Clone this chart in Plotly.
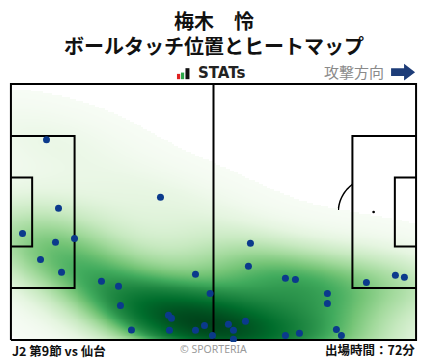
import numpy as np
import plotly.graph_objects as go

# ---------------- data (pitch metres, x: own goal -> attack, y: from bottom touchline)
PITCH_LEN = 105.0
PITCH_WID = 68.0
touch_x = [9.22, 38.76, 12.33, 3.00, 11.55, 16.48, 7.67, 13.11, 23.47, 27.88,
           28.39, 31.24, 40.83, 41.61, 41.09, 47.83, 47.83, 50.16, 51.63, 52.23,
           56.37, 57.67, 57.67, 60.78, 62.07, 61.55, 71.14, 73.73, 71.14, 74.77,
           82.02, 82.02, 84.35, 85.65, 92.13, 99.64, 101.97]
touch_y = [53.2, 37.9, 35.0, 28.3, 25.95, 27.0, 21.4, 18.0, 15.6, 14.3,
           9.2, 2.7, 6.6, 5.8, 2.6, 17.5, 2.6, 3.9, 12.4, 1.2,
           4.2, 2.6, 0.2, 5.0, 25.7, 19.6, 16.4, 16.1, 1.2, 1.8,
           12.4, 9.7, 2.8, 1.2, 15.3, 17.2, 16.7]
# outer edge of the shaded heat area (metres)
edge_x = [0.0, 25.7, 38.7, 51.6, 69.0, 85.3, 105.0]
edge_y = [67.2, 61.9, 53.9, 47.3, 39.6, 34.8, 30.8]

title_name = "梅木　怜"
title_sub = "ボールタッチ位置とヒートマップ"
match_label = "J2 第9節 vs 仙台"
minutes_label = "出場時間：72分"
direction_label = "攻撃方向"
brand_label = "STATs"
credit_label = "© SPORTERIA"

# ---------------- layout geometry (pixels)
W, H = 428, 359
PAD = 0.5
PX_X = 405.3 / PITCH_LEN
PX_Y = 256.0 / PITCH_WID
ML = 10.7 - PAD * PX_X
MR = W - (416.0 + PAD * PX_X)
MT = 84.0 - PAD * PX_Y
MB = H - (340.0 + PAD * PX_Y)
PW = W - ML - MR
PH = H - MT - MB


def px(xp):
    return (xp - ML) / PW


def py(yp):
    return 1 - (yp - MT) / PH


# ---------------- gaussian KDE of touches; kernel chosen so that the shaded edge matches
pts = np.vstack([touch_x, touch_y])
edge = np.vstack([edge_x, edge_y])


def kde_at(P, K):
    inv = np.linalg.inv(K)
    diff = P[:, :, None] - pts[:, None, :]
    q = np.einsum('imn,ij,jmn->mn', diff, inv, diff)
    return np.exp(-0.5 * q).sum(1)


cgx, cgy = np.meshgrid(np.linspace(0, PITCH_LEN, 36), np.linspace(0, PITCH_WID, 24))
coarse = np.stack([cgx.ravel(), cgy.ravel()])
best = None
for sx in np.linspace(8, 26, 13):
    for sy in np.linspace(4, 14, 11):
        for rho in np.linspace(-0.85, 0.1, 12):
            K = np.array([[sx * sx, rho * sx * sy], [rho * sx * sy, sy * sy]])
            le = np.log(kde_at(edge, K))
            lg = np.log(kde_at(coarse, K).max())
            score = le.std() / max(lg - le.mean(), 1e-6)
            if best is None or score < best[0]:
                best = (score, K, np.exp(le.mean()))
_, KBEST, edge_level = best


def kde(gx, gy):
    GX, GY = np.meshgrid(gx, gy)
    return kde_at(np.stack([GX.ravel(), GY.ravel()]), KBEST).reshape(GX.shape)


# iso-proportion colouring (share of mass at lower density) on a wide support grid
bwx, bwy = np.sqrt(np.diag(KBEST))
sup = np.sort(kde(np.linspace(min(touch_x) - 3 * bwx, max(touch_x) + 3 * bwx, 200),
                  np.linspace(min(touch_y) - 3 * bwy, max(touch_y) + 3 * bwy, 200)).ravel())
cum = np.cumsum(sup) / sup.sum()

gx = np.linspace(0, PITCH_LEN, 211)
gy = np.linspace(0, PITCH_WID, 137)
dens = kde(gx, gy)
prop = np.interp(dens, sup, cum)
THRESH = float(np.interp(edge_level, sup, cum))
z = np.where(dens >= edge_level, prop, np.nan)

greens = [[0.0, '#f7fcf5'], [0.125, '#e5f5e0'], [0.25, '#c7e9c0'], [0.375, '#a1d99b'],
          [0.5, '#74c476'], [0.625, '#41ab5d'], [0.75, '#238b45'], [0.875, '#006d2c'],
          [1.0, '#00441b']]

fig = go.Figure()
fig.add_trace(go.Heatmap(x=gx, y=gy, z=z, colorscale=greens, zmin=THRESH, zmax=1.0,
                         zsmooth='best', showscale=False, hoverinfo='skip'))

# ---------------- pitch lines (drawn above heatmap, below dots)
L, Wd = PITCH_LEN, PITCH_WID
pb_d, pb_h = 16.5, 40.32
ga_d, ga_h = 5.5, 18.32
cy = Wd / 2
lx, ly = [], []


def seg(xs, ys):
    lx.extend(list(xs) + [None])
    ly.extend(list(ys) + [None])


seg([0, L, L, 0, 0], [0, 0, Wd, Wd, 0])
seg([L / 2, L / 2], [0, Wd])
for x0, sgn in [(0, 1), (L, -1)]:
    seg([x0, x0 + sgn * pb_d, x0 + sgn * pb_d, x0], [cy - pb_h / 2, cy - pb_h / 2, cy + pb_h / 2, cy + pb_h / 2])
    seg([x0, x0 + sgn * ga_d, x0 + sgn * ga_d, x0], [cy - ga_h / 2, cy - ga_h / 2, cy + ga_h / 2, cy + ga_h / 2])

fig.add_trace(go.Scatter(x=lx, y=ly, mode='lines', line=dict(color='black', width=2),
                         hoverinfo='skip', showlegend=False))

# ---------------- touches
fig.add_trace(go.Scatter(x=touch_x, y=touch_y, mode='markers',
                         marker=dict(color='#0b3a8c', size=7, line=dict(width=0)),
                         hoverinfo='skip', showlegend=False))

# ---------------- markings below heatmap (arcs, circle, spots)
shapes = []
r = 9.15
spot = 11.0
for sx, a0, a1 in [(spot, -53.0, 53.0), (L - spot, 127.0, 233.0)]:
    ang = np.radians(np.linspace(a0, a1, 40))
    xs = sx + r * np.cos(ang)
    ys = cy + r * np.sin(ang)
    path = 'M ' + ' L '.join(f'{a:.3f},{b:.3f}' for a, b in zip(xs, ys))
    shapes.append(dict(type='path', path=path, xref='x', yref='y', layer='below',
                       line=dict(color='black', width=1.5)))
    shapes.append(dict(type='circle', xref='x', yref='y', layer='below',
                       x0=sx - 0.35, x1=sx + 0.35, y0=cy - 0.35, y1=cy + 0.35,
                       fillcolor='black', line=dict(width=0)))
shapes.append(dict(type='circle', xref='x', yref='y', layer='below',
                   x0=L / 2 - r, x1=L / 2 + r, y0=cy - r, y1=cy + r,
                   line=dict(color='black', width=1.5)))

# STATs icon bars
for (x0, x1, y0, c) in [(176.8, 180.0, 74.0, '#e02020'), (180.8, 184.0, 72.7, '#2aa84a'),
                        (185.3, 189.3, 68.3, '#111111')]:
    shapes.append(dict(type='rect', xref='paper', yref='paper', x0=px(x0), x1=px(x1),
                       y0=py(79.3), y1=py(y0), fillcolor=c, line=dict(width=0)))
# direction arrow
arrow_pts = [(391, 68.5), (404, 68.5), (404, 64), (415, 72.3), (404, 80.7), (404, 76), (391, 76)]
apath = 'M ' + ' L '.join(f'{px(a):.5f},{py(b):.5f}' for a, b in arrow_pts) + ' Z'
shapes.append(dict(type='path', xref='paper', yref='paper', path=apath,
                   fillcolor='#1d3c78', line=dict(width=0)))

JP = 'Noto Sans CJK JP'
ann = [
    dict(text=f'<b>{title_name}</b>', x=px(214), y=py(20.5), font=dict(family=JP, size=20, color='#111')),
    dict(text=f'<b>{title_sub}</b>', x=px(214), y=py(46), font=dict(family=JP, size=20, color='#111')),
    dict(text=f'<b>{brand_label}</b>', x=px(196), y=py(73.5), xanchor='left',
         font=dict(family='DejaVu Sans', size=15, color='#222')),
    dict(text=direction_label, x=px(386), y=py(72), xanchor='right',
         font=dict(family=JP, size=15, color='#8a8a8a')),
    dict(text=f'<b>{match_label}</b>', x=px(10), y=py(350), xanchor='left',
         font=dict(family=JP, size=12.5, color='#111')),
    dict(text=credit_label, x=px(213), y=py(349), font=dict(family='Noto Sans', size=10.5, color='#9a9a9a')),
    dict(text=f'<b>{minutes_label}</b>', x=px(417), y=py(349.5), xanchor='right',
         font=dict(family=JP, size=12.5, color='#111')),
]
for a in ann:
    a.setdefault('xanchor', 'center')
    a.update(xref='paper', yref='paper', yanchor='middle', showarrow=False)

fig.update_layout(
    width=W, height=H, autosize=False,
    margin=dict(l=ML, r=MR, t=MT, b=MB, pad=0),
    paper_bgcolor='white', plot_bgcolor='white',
    xaxis=dict(range=[-PAD, L + PAD], visible=False, fixedrange=True),
    yaxis=dict(range=[-PAD, Wd + PAD], visible=False, fixedrange=True),
    shapes=shapes, annotations=ann, showlegend=False,
)
fig.write_html('out.html', config={'displayModeBar': False},
               post_script="document.body.style.margin='0';")
